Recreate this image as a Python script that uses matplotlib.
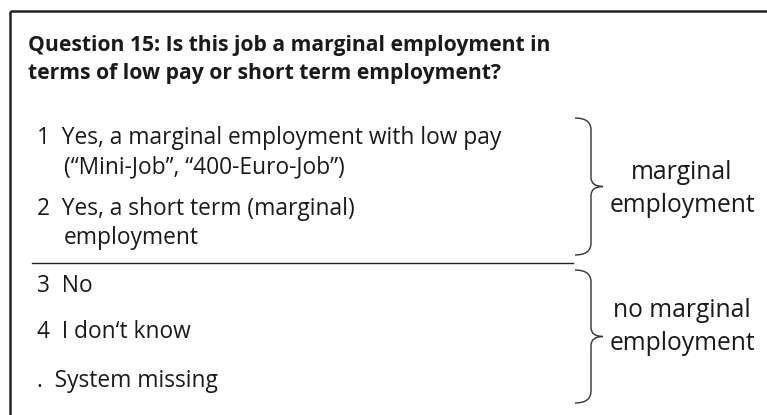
import matplotlib.pyplot as plt
from matplotlib.path import Path
from matplotlib.patches import PathPatch

# ---------- content ----------
question = ["Question 15: Is this job a marginal employment in",
            "terms of low pay or short term employment?"]
codes = ["1", "2", "3", "4", "."]
answers = [
    ["Yes, a marginal employment with low pay", "(\u201cMini-Job\u201d, \u201c400-Euro-Job\u201d)"],
    ["Yes, a short term (marginal)", "employment"],
    ["No"],
    ["I don\u2018t know"],
    ["System missing"],
]
groups = [["marginal", "employment"], ["no marginal", "employment"]]

# ---------- layout (pixel coords, y grows downward) ----------
W, H = 767, 415
FONT = "Open Sans"
INK = "#1a1a1a"
title_base = [51, 79]
answer_base = [144, 215, 292, 338, 387]
line_gap = 29
brace_spans = [(118, 255), (270, 403)]
label_base = [(179, 212), (317, 350)]
label_x = 682


def fit_size(fig, text, target_px, weight="normal", start=14.0):
    # scale font size so the rendered text spans target_px
    t = fig.text(0, 0, text, fontsize=start, family=FONT, fontweight=weight)
    w = t.get_window_extent(renderer=fig.canvas.get_renderer()).width
    t.remove()
    return start * target_px / w


def curly_brace(ax, x0, y_top, y_bot, depth=16, tip=12):
    xm = x0 + depth
    ym = (y_top + y_bot) / 2
    r = 12
    verts = [
        (x0, y_top), (xm, y_top), (xm, y_top + r),
        (xm, ym - 9), (xm, ym), (xm + tip, ym),
        (xm, ym), (xm, ym + 9),
        (xm, y_bot - r), (xm, y_bot), (x0, y_bot),
    ]
    cmds = [Path.MOVETO, Path.CURVE3, Path.CURVE3,
            Path.LINETO, Path.CURVE3, Path.CURVE3,
            Path.CURVE3, Path.CURVE3,
            Path.LINETO, Path.CURVE3, Path.CURVE3]
    ax.add_patch(PathPatch(Path(verts, cmds), fill=False, lw=1.0, ec="#333333"))


fig = plt.figure(figsize=(W / 100, H / 100), dpi=100)
ax = fig.add_axes([0, 0, 1, 1])
ax.set_xlim(0, W)
ax.set_ylim(H, 0)
ax.axis("off")

title_fs = 0.5 * (fit_size(fig, question[0], 534, weight="bold")
                  + fit_size(fig, question[1], 470, weight="bold"))
item_fs = fit_size(fig, codes[0] + "  " + answers[0][0], 465)
label_fs = fit_size(fig, groups[0][1], 146)

# frame: only top and left edges are visible (cropped box)
ax.plot([9.5, W], [11.5, 11.5], color="#222222", lw=1.8, solid_capstyle="butt")
ax.plot([9.5, 9.5], [11.5, H], color="#222222", lw=1.8, solid_capstyle="butt")

for line, yb in zip(question, title_base):
    ax.text(28, yb, line, fontsize=title_fs, fontweight="bold", family=FONT,
            color=INK, va="baseline", ha="left")

for code, ans, yb in zip(codes, answers, answer_base):
    ax.text(37, yb, code + "  " + ans[0], fontsize=item_fs, family=FONT,
            color=INK, va="baseline", ha="left")
    for k, line in enumerate(ans[1:], start=1):
        ax.text(64, yb + line_gap * k, line, fontsize=item_fs, family=FONT,
                color=INK, va="baseline", ha="left")

ax.plot([32, 573], [263, 263], color="#222222", lw=1.0)

for (y0, y1), lab, bases in zip(brace_spans, groups, label_base):
    curly_brace(ax, 575, y0, y1)
    for line, yb in zip(lab, bases):
        ax.text(label_x, yb, line, fontsize=label_fs, family=FONT, color=INK,
                va="baseline", ha="center")

fig.savefig("out.png", dpi=100)
